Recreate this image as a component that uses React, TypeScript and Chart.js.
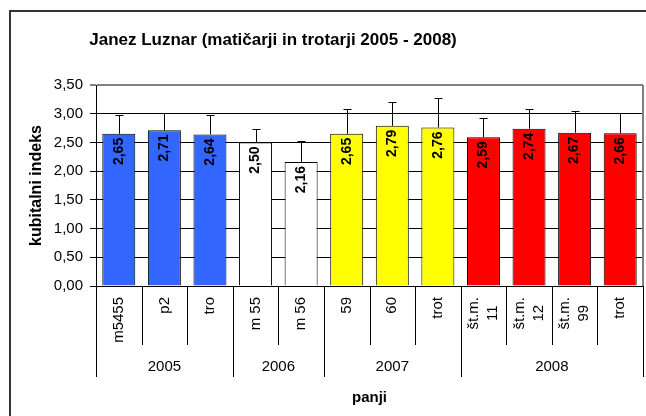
import React, { useEffect, useRef } from 'react';
import { Chart, registerables } from 'chart.js';

Chart.register(...registerables);

const TITLE = 'Janez Luznar (matičarji in trotarji 2005 - 2008)';
const Y_TITLE = 'kubitalni indeks';
const X_TITLE = 'panji';

const categories: string[][] = [
  ['m5455'], ['p2'], ['tro'],
  ['m 55'], ['m 56'],
  ['59'], ['60'], ['trot'],
  ['št.m.', '11'], ['št.m.', '12'], ['št.m.', '99'], ['trot'],
];
const values: number[] = [2.65, 2.71, 2.64, 2.50, 2.16, 2.65, 2.79, 2.76, 2.59, 2.74, 2.67, 2.66];
const errors: number[] = [0.33, 0.31, 0.34, 0.24, 0.37, 0.43, 0.42, 0.51, 0.34, 0.35, 0.37, 0.36];
const years: string[] = ['2005', '2006', '2007', '2008'];
const yearSizes: number[] = [3, 2, 3, 4];
const yearColors: string[] = ['#3366FF', '#FFFFFF', '#FFFF00', '#FF0000'];
const yMin = 0;
const yMax = 3.5;
const yStep = 0.5;

const FONT = "'Liberation Sans', Arial, Helvetica, sans-serif";

const barColors: string[] = [];
yearSizes.forEach((n, g) => {
  for (let k = 0; k < n; k++) barColors.push(yearColors[g]);
});

const fmt = (v: number) => v.toFixed(2).replace('.', ',');

const decorPlugin = {
  id: 'decor',
  beforeDraw(chart: any) {
    const ctx = chart.ctx;
    ctx.save();
    ctx.fillStyle = '#fff';
    ctx.fillRect(0, 0, chart.width, chart.height);
    ctx.strokeStyle = '#333';
    ctx.lineWidth = 2;
    ctx.strokeRect(10, 11, chart.width + 40, chart.height + 40);
    ctx.fillStyle = '#000';
    ctx.font = `bold 17px ${FONT}`;
    ctx.textAlign = 'center';
    ctx.textBaseline = 'middle';
    ctx.fillText(TITLE, 273, 40);
    ctx.restore();
  },
  afterDatasetsDraw(chart: any) {
    const ctx = chart.ctx;
    const yScale = chart.scales.y;
    const meta = chart.getDatasetMeta(0);
    const area = chart.chartArea;
    ctx.save();
    // right border of plot area
    ctx.strokeStyle = '#808080';
    ctx.lineWidth = 2;
    ctx.beginPath();
    ctx.moveTo(Math.round(area.right), area.top);
    ctx.lineTo(Math.round(area.right), area.bottom);
    ctx.stroke();
    // error bars
    ctx.strokeStyle = '#000';
    ctx.lineWidth = 1;
    meta.data.forEach((bar: any, i: number) => {
      const x = Math.round(bar.x) + 0.5;
      const yTop = Math.round(yScale.getPixelForValue(values[i] + errors[i])) + 0.5;
      ctx.beginPath();
      ctx.moveTo(x, bar.y);
      ctx.lineTo(x, yTop);
      ctx.moveTo(x - 4, yTop);
      ctx.lineTo(x + 4, yTop);
      ctx.stroke();
    });
    // value labels
    ctx.fillStyle = '#000';
    ctx.font = `bold 14px ${FONT}`;
    ctx.textAlign = 'right';
    ctx.textBaseline = 'middle';
    meta.data.forEach((bar: any, i: number) => {
      ctx.save();
      ctx.translate(bar.x, bar.y + 4);
      ctx.rotate(-Math.PI / 2);
      ctx.fillText(fmt(values[i]), 0, 0);
      ctx.restore();
    });
    ctx.restore();
  },
  afterDraw(chart: any) {
    const ctx = chart.ctx;
    const xScale = chart.scales.x;
    const area = chart.chartArea;
    const n = categories.length;
    const w = xScale.getPixelForValue(1) - xScale.getPixelForValue(0);
    const left0 = xScale.getPixelForValue(0) - w / 2;
    const base = area.bottom;
    const groupEnds = new Set<number>();
    let acc = 0;
    groupEnds.add(0);
    yearSizes.forEach((s) => { acc += s; groupEnds.add(acc); });
    ctx.save();
    ctx.strokeStyle = '#000';
    ctx.lineWidth = 1;
    for (let i = 0; i <= n; i++) {
      const bx = Math.round(left0 + i * w) + 0.5;
      const len = groupEnds.has(i) ? 91 : 59;
      ctx.beginPath();
      ctx.moveTo(bx, base);
      ctx.lineTo(bx, base + len);
      ctx.stroke();
    }
    // category labels
    ctx.fillStyle = '#000';
    ctx.font = `15px ${FONT}`;
    ctx.textAlign = 'center';
    ctx.textBaseline = 'middle';
    const lineH = 19;
    categories.forEach((lines, i) => {
      const cx = xScale.getPixelForValue(i);
      const maxW = Math.max(...lines.map((l) => ctx.measureText(l).width));
      const cy = base + 11 + maxW / 2;
      lines.forEach((l, j) => {
        const lx = cx + (j - (lines.length - 1) / 2) * lineH;
        ctx.save();
        ctx.translate(lx, cy);
        ctx.rotate(-Math.PI / 2);
        ctx.fillText(l, 0, 0);
        ctx.restore();
      });
    });
    // year labels
    let start = 0;
    years.forEach((yr, g) => {
      const a = left0 + start * w;
      const b = left0 + (start + yearSizes[g]) * w;
      ctx.fillText(yr, (a + b) / 2, base + 81);
      start += yearSizes[g];
    });
    ctx.restore();
  },
};

export default function App() {
  const ref = useRef<HTMLCanvasElement | null>(null);
  useEffect(() => {
    document.body.style.margin = '0';
    const canvas = ref.current;
    if (!canvas) return;
    const chart = new Chart(canvas, {
      type: 'bar',
      data: {
        labels: categories.map((c) => c.join(' ')),
        datasets: [
          {
            data: values,
            backgroundColor: barColors,
            borderColor: '#000',
            borderWidth: 1,
            barPercentage: 0.724,
            categoryPercentage: 1,
          },
        ],
      },
      options: {
        responsive: false,
        animation: false,
        devicePixelRatio: 1,
        layout: { padding: { top: 85, left: 0, right: 3, bottom: 0 } },
        plugins: {
          legend: { display: false },
          title: { display: false },
          tooltip: { enabled: false },
        },
        scales: {
          x: {
            type: 'category',
            grid: { display: false },
            border: { display: true, color: '#000', width: 1 },
            ticks: { display: false },
            title: {
              display: true,
              text: X_TITLE,
              color: '#000',
              font: { family: FONT, size: 15, weight: 'bold' },
              padding: { top: 0, bottom: 9 },
            },
            afterFit: (s: any) => { s.height = 130; },
          },
          y: {
            min: yMin,
            max: yMax,
            grid: {
              color: (c: any) => (c.tick && c.tick.value === yMax ? '#808080' : '#000'),
              lineWidth: (c: any) => (c.tick && c.tick.value === yMax ? 2 : 1),
              tickLength: 6,
            },
            border: { display: true, color: '#000', width: 1 },
            ticks: {
              stepSize: yStep,
              padding: 7,
              color: '#000',
              font: { family: FONT, size: 15 },
              callback: (v: any) => fmt(Number(v)),
            },
            title: {
              display: true,
              text: Y_TITLE,
              color: '#000',
              font: { family: FONT, size: 16, weight: 'bold' },
              padding: { top: 27, bottom: 0 },
            },
            afterFit: (s: any) => { s.width = 96; },
          },
        },
      } as any,
      plugins: [decorPlugin],
    });
    return () => chart.destroy();
  }, []);
  return <canvas ref={ref} width={646} height={416} style={{ display: 'block', width: 646, height: 416 }} />;
}
